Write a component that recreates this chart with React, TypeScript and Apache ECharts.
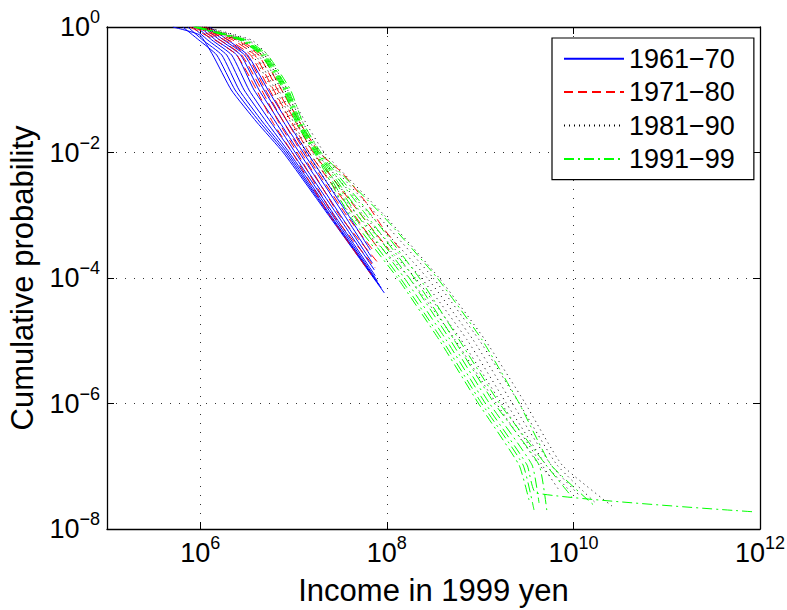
import React, { useEffect, useRef } from 'react';
import * as echarts from 'echarts';

// Legend / group names
const groupNames = ['1961−70', '1971−80', '1981−90', '1991−99'];

// Tick values (log axes)
const xTickValues = [1e6, 1e8, 1e10, 1e12];
const yTickValues = [1e-8, 1e-6, 1e-4, 1e-2, 1];

// Each curve: [income in 1999 yen, cumulative probability]
const blue1961to70: number[][][] = [
  [[5.08e5, 1], [9.88e5, 0.746], [1.36e6, 0.358], [2.15e6, 0.0991], [4.02e6, 0.0306], [7.82e6, 0.00982], [2.37e7, 1.0e-3], [9.40e7, 5.77e-5]],
  [[6.5e5, 1], [9.64e5, 0.621], [1.5e6, 0.358], [2.36e6, 0.0991], [4.33e6, 0.0306], [8.21e6, 0.00982], [2.43e7, 1.0e-3], [8.73e7, 6.93e-5]],
  [[7.35e5, 1], [1.06e6, 0.621], [1.7e6, 0.358], [2.61e6, 0.0991], [4.66e6, 0.0306], [8.63e6, 0.00982], [2.49e7, 1.0e-3], [8.31e7, 7.73e-5]],
  [[8.31e5, 1], [1.2e6, 0.621], [1.92e6, 0.358], [2.95e6, 0.0991], [5.14e6, 0.0306], [9.06e6, 0.00982], [2.61e7, 1.0e-3], [7.91e7, 8.96e-5]],
  [[9.18e5, 1], [1.33e6, 0.621], [2.17e6, 0.358], [3.33e6, 0.0991], [5.68e6, 0.0306], [9.75e6, 0.00982], [2.74e7, 1.0e-3], [7.53e7, 1.08e-4]],
  [[9.88e5, 1], [1.46e6, 0.621], [2.46e6, 0.358], [3.77e6, 0.0991], [6.42e6, 0.0306], [1.05e7, 0.00982], [2.96e7, 1.0e-3], [7.35e7, 1.34e-4]],
  [[1.06e6, 1], [1.62e6, 0.621], [2.71e6, 0.358], [4.27e6, 0.0991], [7.08e6, 0.0306], [1.16e7, 0.00982], [3.18e7, 1.0e-3], [7.0e7, 1.73e-4]],
  [[1.15e6, 1], [1.78e6, 0.621], [2.99e6, 0.358], [4.82e6, 0.0991], [7.82e6, 0.0306], [1.28e7, 0.00982], [3.51e7, 1.0e-3], [6.83e7, 2.16e-4]],
  [[1.26e6, 1], [1.97e6, 0.621], [3.22e6, 0.358], [5.32e6, 0.0991], [8.63e6, 0.0306], [1.41e7, 0.00982], [3.87e7, 1.0e-3], [6.66e7, 2.79e-4]],
];

const red1971to80: number[][][] = [
  [[7.72e5, 1], [1.43e6, 0.621], [2.46e6, 0.358], [4.02e6, 0.0991], [5.96e6, 0.0306], [9.75e6, 0.00982], [2.43e7, 1.0e-3], [6.83e7, 1.12e-4]],
  [[8.31e5, 1], [1.62e6, 0.621], [2.78e6, 0.358], [4.55e6, 0.0991], [6.91e6, 0.0306], [1.1e7, 0.00982], [2.68e7, 1.0e-3], [7.53e7, 1.44e-4]],
  [[8.95e5, 1], [1.83e6, 0.621], [3.14e6, 0.358], [5.02e6, 0.0991], [7.82e6, 0.0306], [1.22e7, 0.00982], [3.1e7, 1.0e-3], [7.91e7, 1.8e-4]],
  [[9.4e5, 1], [2.02e6, 0.621], [3.47e6, 0.358], [5.54e6, 0.0991], [8.63e6, 0.0306], [1.34e7, 0.00982], [3.69e7, 1.0e-3], [7.35e7, 2.6e-4]],
  [[9.88e5, 1], [2.23e6, 0.621], [3.83e6, 0.358], [6.11e6, 0.0991], [9.52e6, 0.0306], [1.48e7, 0.00982], [4.49e7, 1.0e-3], [8.31e7, 2.79e-4]],
  [[1.04e6, 1], [2.46e6, 0.621], [4.22e6, 0.358], [6.74e6, 0.0991], [1.05e7, 0.0306], [1.64e7, 0.00982], [5.34e7, 1.0e-3], [1.06e8, 2.79e-4]],
  [[1.12e6, 1], [2.65e6, 0.621], [4.55e6, 0.358], [7.44e6, 0.0991], [1.16e7, 0.0306], [1.9e7, 0.00982], [3.34e7, 4.71e-3], [6.04e7, 1.57e-3], [8.95e7, 6.5e-4], [1.36e8, 3.0e-4]],
];

const black1981to90: number[][][] = [
  [[1.15e6, 1], [3.55e6, 0.621], [5.27e6, 0.358], [8.63e6, 0.0991], [1.34e7, 0.0306], [2.15e7, 0.00982], [9.4e7, 1e-3], [3.64e8, 1e-4], [1.13e9, 1.03e-5], [3.03e9, 1.02e-6], [7.54e9, 1.05e-7], [2.58e10, 2.33e-8]],
  [[1.1e6, 1], [3.3e6, 0.621], [4.9e6, 0.358], [8.01e6, 0.0991], [1.25e7, 0.0306], [1.95e7, 0.00982], [7.91e7, 1e-3], [3.14e8, 1e-4], [9.76e8, 1.03e-5], [2.61e9, 1.02e-6], [6.66e9, 1.05e-7], [1.78e10, 2.5e-8]],
  [[1.04e6, 1], [3.07e6, 0.621], [4.55e6, 0.358], [7.44e6, 0.0991], [1.16e7, 0.0306], [1.76e7, 0.00982], [6.66e7, 1e-3], [2.71e8, 1e-4], [8.42e8, 1.03e-5], [2.2e9, 1.02e-6], [5.75e9, 1.05e-7], [1.2e10, 3.24e-8]],
  [[9.88e5, 1], [2.85e6, 0.621], [4.22e6, 0.358], [6.91e6, 0.0991], [1.08e7, 0.0306], [1.6e7, 0.00982], [5.61e7, 1e-3], [2.34e8, 1e-4], [7.26e8, 1.03e-5], [1.9e9, 1.02e-6], [5.08e9, 1.05e-7], [9.4e9, 3.89e-8]],
  [[9.4e5, 1], [2.65e6, 0.621], [3.92e6, 0.358], [6.42e6, 0.0991], [1.0e7, 0.0306], [1.48e7, 0.00982], [4.84e7, 1e-3], [2.02e8, 1e-4], [6.26e8, 1.03e-5], [1.68e9, 1.02e-6], [4.6e9, 1.05e-7], [7.0e9, 4.18e-8]],
  [[8.95e5, 1], [2.46e6, 0.621], [3.64e6, 0.358], [5.96e6, 0.0991], [9.29e6, 0.0306], [1.38e7, 0.00982], [4.17e7, 1e-3], [1.74e8, 1e-4], [5.4e8, 1.03e-5], [1.48e9, 1.02e-6], [4.28e9, 1.05e-7], [5.89e9, 6.5e-8]],
];

const green1991to99: number[][][] = [
  [[9.4e5, 1], [3.14e6, 0.621], [5.27e6, 0.358], [9.29e6, 0.0991], [1.25e7, 0.0306], [1.99e7, 0.00982], [8.95e7, 1e-3], [3.47e8, 1e-4], [1.05e9, 1.03e-5], [2.61e9, 1.02e-6], [5.75e9, 1.05e-7], [1.74e10, 2.24e-8]],
  [[9.18e5, 1], [2.99e6, 0.621], [5.02e6, 0.358], [8.84e6, 0.0991], [1.19e7, 0.0306], [1.9e7, 0.00982], [6.83e7, 1e-3], [2.23e8, 1e-4], [5.96e8, 1.03e-5], [1.6e9, 1.02e-6], [5.08e9, 1.05e-7], [9.64e9, 3.24e-8]],
  [[8.95e5, 1], [2.92e6, 0.621], [4.9e6, 0.358], [8.63e6, 0.0991], [1.16e7, 0.0306], [1.85e7, 0.00982], [6.04e7, 1e-3], [1.97e8, 1e-4], [5.27e8, 1.03e-5], [1.41e9, 1.02e-6], [4.28e9, 1.05e-7], [5.21e9, 1.87e-8]],
  [[8.73e5, 1], [2.85e6, 0.621], [4.78e6, 0.358], [8.42e6, 0.0991], [1.13e7, 0.0306], [1.81e7, 0.00982], [5.34e7, 1e-3], [1.74e8, 1e-4], [4.78e8, 1.03e-5], [1.25e9, 1.02e-6], [3.6e9, 1.05e-7], [4.28e9, 2.6e-8]],
  [[8.73e5, 1], [2.78e6, 0.621], [4.66e6, 0.358], [8.21e6, 0.0991], [1.1e7, 0.0306], [1.76e7, 0.00982], [4.84e7, 1e-3], [1.54e8, 1e-4], [4.33e8, 1.03e-5], [1.13e9, 1.02e-6], [3.18e9, 1.05e-7], [3.97e9, 3.75e-8], [8.95e11, 1.87e-8]],
  [[8.52e5, 1], [2.71e6, 0.621], [4.55e6, 0.358], [8.01e6, 0.0991], [1.08e7, 0.0306], [1.72e7, 0.00982], [4.38e7, 1e-3], [1.39e8, 1e-4], [3.92e8, 1.03e-5], [1.03e9, 1.02e-6], [2.88e9, 1.05e-7], [3.78e9, 2.01e-8]],
  [[8.52e5, 1], [2.65e6, 0.621], [4.44e6, 0.358], [7.82e6, 0.0991], [1.05e7, 0.0306], [1.68e7, 0.00982], [3.97e7, 1e-3], [1.3e8, 1e-4], [3.64e8, 1.03e-5], [9.52e8, 1.02e-6], [2.61e9, 1.05e-7], [3.34e9, 2.9e-8]],
];

const FONT = '"Liberation Sans", Arial, Helvetica, sans-serif';

const groupStyles = [
  { color: '#0000ff', dash: 'solid' as any },
  { color: '#ff0000', dash: [9, 5] },
  { color: '#000000', dash: [1, 4] },
  { color: '#00ff00', dash: [10, 4, 2, 4] },
];

const groupData = [blue1961to70, red1971to80, black1981to90, green1991to99];

function powLabel(v: number): string {
  const e = Math.round(Math.log10(v));
  const s = e < 0 ? '−' + Math.abs(e) : String(e);
  return '{b|10}{s|' + s + '}';
}

const labelRich = {
  b: { fontSize: 27, fontFamily: FONT, color: '#000', lineHeight: 38 },
  s: { fontSize: 18, fontFamily: FONT, color: '#000', verticalAlign: 'top' },
};

export default function App() {
  const ref = useRef<HTMLDivElement>(null);
  useEffect(() => {
    if (!ref.current) return;
    const chart = echarts.init(ref.current, undefined, { renderer: 'svg' });
    const series: any[] = [];
    groupData.forEach((curves, gi) => {
      curves.forEach((c) => {
        series.push({
          type: 'line',
          name: groupNames[gi],
          data: c,
          symbol: 'none',
          showSymbol: false,
          silent: true,
          clip: true,
          smooth: 0.15,
          lineStyle: { color: groupStyles[gi].color, width: 1, type: groupStyles[gi].dash },
          itemStyle: { color: groupStyles[gi].color },
          emphasis: { disabled: true },
        });
      });
    });
    const axisLine = { show: true, onZero: false, lineStyle: { color: '#000', width: 1.3 } };
    const gridLine = { show: true, lineStyle: { color: '#333', width: 1, type: [1, 8] } };
    chart.setOption({
      animation: false,
      backgroundColor: '#fff',
      grid: { left: 107, right: 27, top: 27, bottom: 81, containLabel: false, outerBoundsMode: 'none' },
      legend: {
        data: groupNames,
        orient: 'vertical',
        left: 552,
        top: 38,
        padding: [4, 19, 4, 11],
        itemGap: 0,
        itemWidth: 60,
        itemHeight: 14,
        borderColor: '#000',
        borderWidth: 1.2,
        backgroundColor: '#fff',
        itemStyle: { opacity: 0, borderWidth: 0 },
        textStyle: { fontSize: 27, fontFamily: FONT, color: '#000', lineHeight: 33.4 },
        selectedMode: false,
      },
      xAxis: [
        {
          type: 'log',
          min: 1e5,
          max: 1e12,
          position: 'bottom',
          axisLine,
          axisTick: { show: true, inside: true, length: 7, customValues: xTickValues, lineStyle: { color: '#000' } },
          axisLabel: { customValues: xTickValues, formatter: powLabel, rich: labelRich, margin: 5, color: '#000' },
          splitLine: gridLine,
          name: 'Income in 1999 yen',
          nameLocation: 'middle',
          nameGap: 46,
          nameMoveOverlap: false,
          nameTextStyle: { fontSize: 31, fontFamily: FONT, color: '#000' },
        },
        {
          type: 'log',
          min: 1e5,
          max: 1e12,
          position: 'top',
          axisLine,
          axisTick: { show: true, inside: true, length: 7, customValues: xTickValues, lineStyle: { color: '#000' } },
          axisLabel: { show: false },
          splitLine: { show: false },
        },
      ],
      yAxis: [
        {
          type: 'log',
          min: 1e-8,
          max: 1,
          position: 'left',
          axisLine,
          axisTick: { show: true, inside: true, length: 7, customValues: yTickValues, lineStyle: { color: '#000' } },
          axisLabel: { customValues: yTickValues, formatter: powLabel, rich: labelRich, margin: 7, color: '#000' },
          splitLine: gridLine,
          name: 'Cumulative probability',
          nameLocation: 'middle',
          nameGap: 69,
          nameMoveOverlap: false,
          nameTextStyle: { fontSize: 31, fontFamily: FONT, color: '#000' },
        },
        {
          type: 'log',
          min: 1e-8,
          max: 1,
          position: 'right',
          axisLine,
          axisTick: { show: true, inside: true, length: 7, customValues: yTickValues, lineStyle: { color: '#000' } },
          axisLabel: { show: false },
          splitLine: { show: false },
        },
      ],
      series,
    });
    return () => chart.dispose();
  }, []);
  return <div ref={ref} style={{ position: 'fixed', left: 0, top: 0, width: 787, height: 610, background: '#fff' }} />;
}
